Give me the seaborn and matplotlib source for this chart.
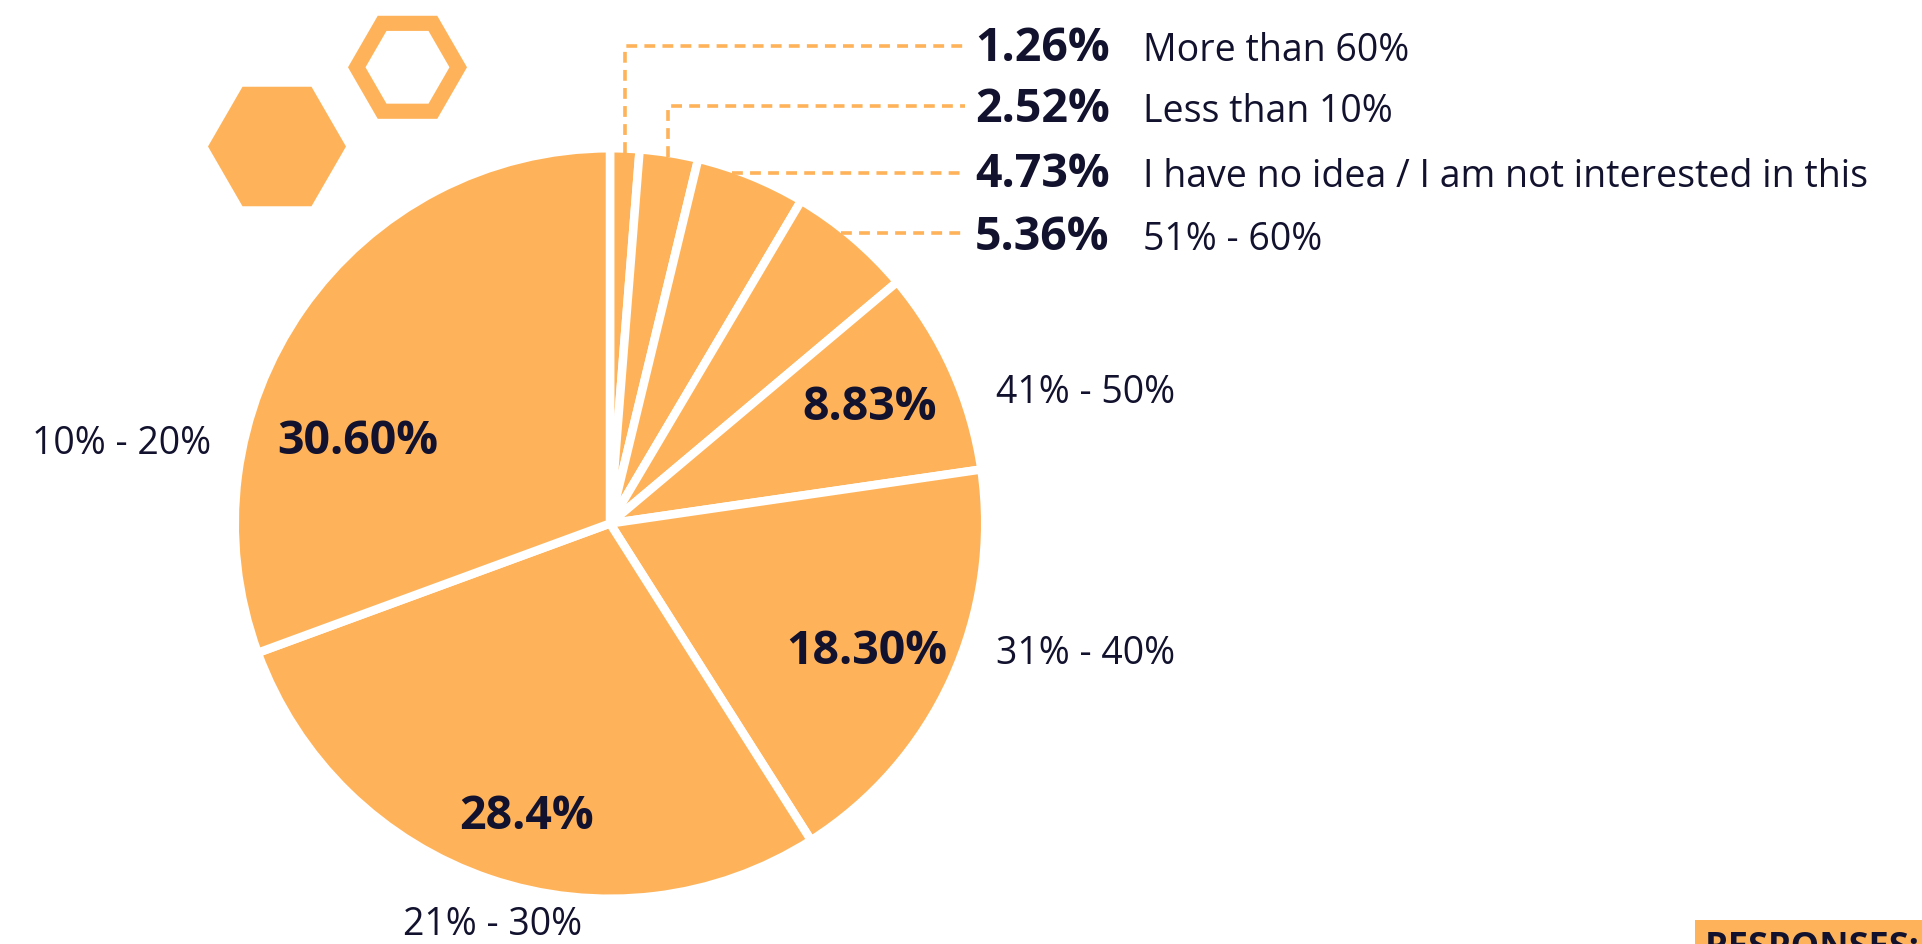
import numpy as np
import matplotlib
matplotlib.use("Agg")
import matplotlib.pyplot as plt
import seaborn as sns
from matplotlib.patches import Rectangle, PathPatch, Polygon
from matplotlib.path import Path

# ---------------- data ----------------
shares = [1.26, 2.52, 4.73, 5.36, 8.83, 18.30, 28.4, 30.60]
pct_labels = ["1.26%", "2.52%", "4.73%", "5.36%", "8.83%", "18.30%", "28.4%", "30.60%"]
categories = ["More than 60%", "Less than 10%",
              "I have no idea / I am not interested in this", "51% - 60%",
              "41% - 50%", "31% - 40%", "21% - 30%", "10% - 20%"]
footer_label = "RESPONSES:"

# ---------------- style ----------------
sns.set_theme(style="white")
plt.rcParams["font.family"] = ["Open Sans", "DejaVu Sans"]

W, H = 1922, 944
ORANGE = "#FEB35A"
INK = "#12122E"
BOLD_PT = 33.5
REG_PT = 27

fig = plt.figure(figsize=(W / 100, H / 100), dpi=100)
fig.patch.set_facecolor("white")
ax = fig.add_axes([0, 0, 1, 1])


def T(y):
    """convert a top-based pixel row to axis y"""
    return H - y


# pie geometry (pixels, top-based)
CX, CY, R_VIS = 610, 523.5, 371
EDGE_PX = 8.5
colors = sns.color_palette([ORANGE], n_colors=len(shares))
wedges, _ = ax.pie(
    shares, startangle=90, counterclock=False,
    center=(CX, T(CY)), radius=R_VIS + EDGE_PX / 2, colors=colors,
    wedgeprops=dict(edgecolor="white", linewidth=EDGE_PX * 0.72, joinstyle="round"),
)
ax.set_xlim(0, W)
ax.set_ylim(0, H)
ax.set_aspect("auto")
ax.axis("off")

# ---------------- hexagons ----------------
def hex_pts(cx, cy, R):
    ang = np.deg2rad(np.arange(0, 360, 60))
    return np.column_stack([cx + R * np.cos(ang), T(cy) + R * np.sin(ang)])

ax.add_patch(Polygon(hex_pts(277, 146.5, 69), closed=True, facecolor=ORANGE, edgecolor="none"))
outer = hex_pts(407.5, 67.3, 59.5)
inner = hex_pts(407.5, 67.3, 42)[::-1]
verts = np.vstack([outer, outer[:1], inner, inner[:1]])
codes = ([Path.MOVETO] + [Path.LINETO] * 5 + [Path.CLOSEPOLY]) * 2
ax.add_patch(PathPatch(Path(verts, codes), facecolor=ORANGE, edgecolor="none"))

# ---------------- leader lines + top labels ----------------
top_rows = [61, 122, 187, 250]          # baselines of the stacked labels
line_rows = [46, 106, 173, 233]         # y of the dashed leaders
X_END = 965
cum = np.concatenate([[0], np.cumsum(shares)])
dash = dict(color=ORANGE, lw=2.6, linestyle=(0, (3.0, 2.0)), solid_capstyle="butt",
            dash_capstyle="butt")
for i in range(4):
    ly = line_rows[i]
    if i < 2:
        th = np.deg2rad(360 * (cum[i] + shares[i] / 2) / 100)
        px = CX + R_VIS * np.sin(th)
        py = CY - R_VIS * np.cos(th)
        ax.plot([px, px, X_END], [T(py), T(ly), T(ly)], **dash)
    else:
        dx = np.sqrt(R_VIS ** 2 - (CY - ly) ** 2)
        ax.plot([CX + dx, X_END], [T(ly), T(ly)], **dash)
    ax.text(975, T(top_rows[i]), pct_labels[i], fontsize=BOLD_PT, fontweight="bold",
            color=INK, ha="left", va="baseline")
    ax.text(1143, T(top_rows[i]), categories[i], fontsize=REG_PT, color=INK,
            ha="left", va="baseline")

# ---------------- other labels ----------------
inner_pos = {4: (869.5, 420), 5: (866.5, 664), 6: (527, 829), 7: (357.5, 454)}
outer_pos = {4: (996, 403, "left"), 5: (996, 664, "left"),
             6: (492.5, 935, "center"), 7: (121.5, 454, "center")}
for i, (x, y) in inner_pos.items():
    ax.text(x, T(y), pct_labels[i], fontsize=BOLD_PT, fontweight="bold", color=INK,
            ha="center", va="baseline")
for i, (x, y, ha) in outer_pos.items():
    ax.text(x, T(y), categories[i], fontsize=REG_PT, color=INK, ha=ha, va="baseline")

# ---------------- footer box ----------------
ax.add_patch(Rectangle((1695, T(H + 60)), 400, 84, facecolor=ORANGE, edgecolor="none",
                       clip_on=False))
ax.text(1705, T(958), footer_label, fontsize=26, fontweight="bold", color=INK,
        ha="left", va="baseline", clip_on=False)

fig.savefig("out.png", dpi=100, facecolor="white")
